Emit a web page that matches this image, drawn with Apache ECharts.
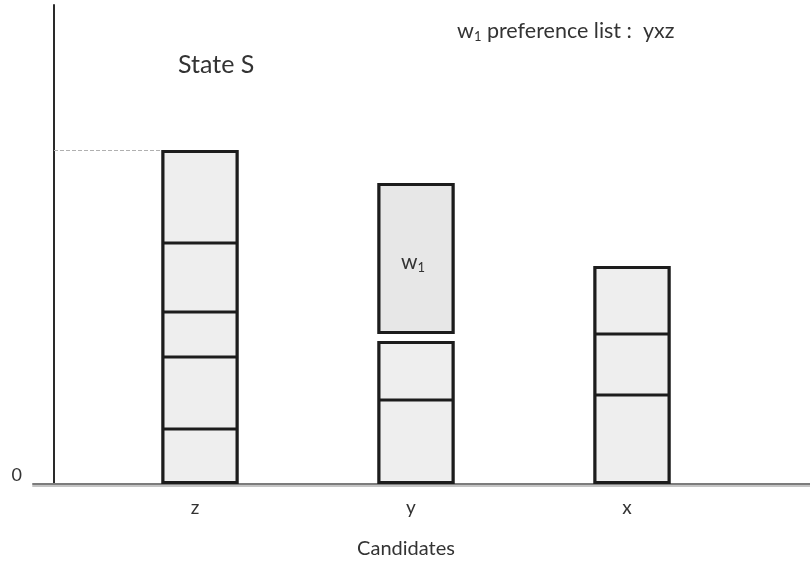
<!DOCTYPE html>
<html>
<head>
<meta charset="utf-8">
<script src="https://cdn.jsdelivr.net/npm/echarts@6/dist/echarts.min.js"></script>
<style>
  html, body { margin: 0; padding: 0; background: #fff; }
  #chart { width: 810px; height: 565px; }
</style>
</head>
<body>
<div id="chart"></div>
<script>
// candidates on the x axis
const candidates = ['z', 'y', 'x'];

// stacked blocks per candidate, bottom to top (arbitrary weight units)
const zBlocks = [55, 72, 45, 69, 93];
const yBlocks = [84, 59];
const w1Gap = 7;      // empty space between y's pile and the floating w1 block
const w1Block = 151;
const xBlocks = [89, 61, 68];

const yTicks = [0];

var myChart = echarts.init(document.getElementById('chart'));

const font = 'Lato, "Open Sans", sans-serif';
const fill = '#eeeeee';
const border = '#1c1c1c';
const yMax = 479;
const barPx = 77;
// outer grid (axes lines) and inner grid (bars)
const outerLeft = 33, yAxisX = 54;
const innerLeft = 92, innerRight = 70;
const band = (810 - innerLeft - innerRight) / candidates.length;

const sum = arr => arr.reduce((a, b) => a + b, 0);
const yPile = yBlocks.concat([w1Gap, w1Block]);
const piles = [zBlocks, yPile, xBlocks];
const levels = Math.max.apply(null, piles.map(p => p.length));
const zTotal = sum(zBlocks);

let series = [];
for (let lv = 0; lv < levels; lv++) {
  let data = piles.map((pile, i) => {
    let v = pile[lv] === undefined ? '-' : pile[lv];
    let item = { value: v };
    if (i === 1 && lv === yBlocks.length) {
      // gap: invisible
      item.itemStyle = { color: 'rgba(0,0,0,0)', borderWidth: 0 };
    }
    if (i === 1 && lv === yBlocks.length + 1) {
      item.itemStyle = { color: '#e7e7e7' };
      item.label = {
        show: true,
        position: 'inside',
        offset: [-3, 4],
        formatter: '{w|w}{s|1}',
        rich: {
          w: { fontFamily: font, fontSize: 21, color: '#333' },
          s: { fontFamily: font, fontSize: 13, color: '#333', padding: [10, 0, 0, 0] }
        }
      };
    }
    return item;
  });
  let s = {
    type: 'bar',
    stack: 'pile',
    xAxisIndex: 1,
    yAxisIndex: 1,
    barWidth: barPx,
    data: data,
    itemStyle: { color: fill, borderColor: border, borderWidth: 1.5 },
    emphasis: { disabled: true }
  };
  if (lv === 0) {
    s.markLine = {
      silent: true,
      symbol: 'none',
      z: 1,
      label: { show: false },
      lineStyle: { type: 'dashed', color: '#b0b0b0', width: 1 },
      data: [[
        { x: yAxisX, yAxis: zTotal },
        { x: innerLeft + band / 2 - barPx / 2, yAxis: zTotal }
      ]]
    };
  }
  series.push(s);
}

// outline of each pile (thicker outer frame), w1 block framed on its own
const outlineLevels = [
  [sum(zBlocks), sum(yBlocks), sum(xBlocks)],
  ['-', w1Gap, '-'],
  ['-', w1Block, '-']
];
outlineLevels.forEach((vals, k) => {
  series.push({
    type: 'bar',
    stack: 'outline',
    xAxisIndex: 1,
    yAxisIndex: 1,
    barWidth: barPx,
    barGap: '-100%',
    silent: true,
    data: vals,
    itemStyle: {
      color: 'rgba(0,0,0,0)',
      borderColor: k === 1 ? 'rgba(0,0,0,0)' : border,
      borderWidth: k === 1 ? 0 : 3
    },
    emphasis: { disabled: true }
  });
});

let option = {
  backgroundColor: '#fff',
  animation: false,
  title: [{
    text: 'State S',
    left: 173,
    top: 47,
    textStyle: { fontFamily: font, fontSize: 25, fontWeight: 'normal', color: '#333' }
  }, {
    text: '{w|w}{s|1}{t| preference list :  yxz}',
    left: 452,
    top: 15,
    textStyle: {
      rich: {
        w: { fontFamily: font, fontSize: 21.5, fontWeight: 'normal', color: '#333' },
        s: { fontFamily: font, fontSize: 13, fontWeight: 'normal', color: '#333', padding: [10, 0, 0, 0] },
        t: { fontFamily: font, fontSize: 21.5, fontWeight: 'normal', color: '#333' }
      }
    }
  }],
  grid: [
    { left: outerLeft, right: 0, top: 5, bottom: 81, outerBoundsMode: 'none' },
    { left: innerLeft, right: innerRight, top: 5, bottom: 81, outerBoundsMode: 'none' }
  ],
  xAxis: [{
    gridIndex: 0,
    type: 'value',
    min: 0,
    max: 1,
    axisLine: {
      show: true,
      lineStyle: { color: '#7c7c7c', width: 2, shadowColor: '#c4c4c4', shadowOffsetY: 2 }
    },
    axisTick: { show: false },
    splitLine: { show: false },
    axisLabel: { show: false }
  }, {
    gridIndex: 1,
    type: 'category',
    data: candidates,
    name: 'Candidates',
    nameLocation: 'middle',
    nameGap: 55,
    nameTextStyle: { fontFamily: font, fontSize: 20, color: '#333', padding: [0, 20, 0, 0] },
    axisLine: { show: false },
    axisTick: { show: false },
    splitLine: { show: false },
    axisLabel: {
      fontFamily: font,
      fontSize: 19,
      color: '#333',
      margin: 14,
      padding: [0, 10, 0, 0]
    }
  }],
  yAxis: [{
    gridIndex: 0,
    type: 'value',
    min: 0,
    max: yMax,
    offset: outerLeft - yAxisX,
    axisLine: { show: true, onZero: false, lineStyle: { color: '#2a2a2a', width: 2 } },
    axisTick: { show: false },
    splitLine: { show: false },
    axisLabel: {
      customValues: yTicks,
      fontFamily: font,
      fontSize: 18,
      color: '#333',
      margin: 32,
      verticalAlign: 'bottom'
    }
  }, {
    gridIndex: 1,
    type: 'value',
    min: 0,
    max: yMax,
    show: false
  }],
  series: series
};

myChart.setOption(option);
</script>
</body>
</html>
